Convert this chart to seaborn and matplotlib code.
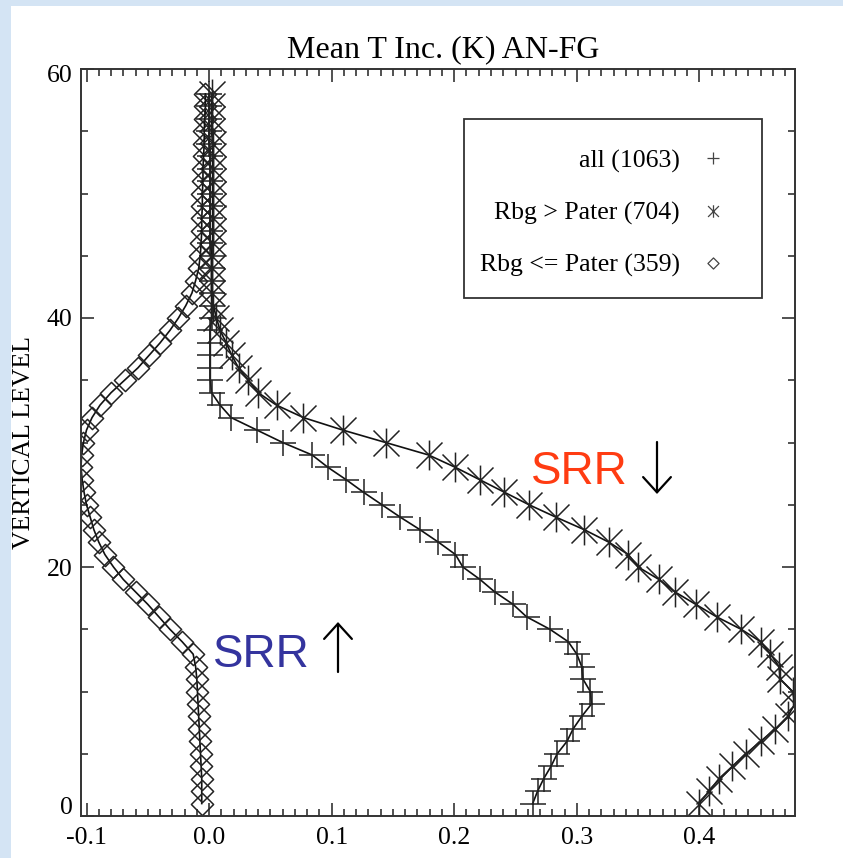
import numpy as np
import pandas as pd
import matplotlib
matplotlib.use('Agg')
import matplotlib.pyplot as plt
from matplotlib.path import Path
from matplotlib.patches import Rectangle
from matplotlib.ticker import MultipleLocator, FixedLocator
from matplotlib.transforms import ScaledTranslation
import seaborn as sns

# ---------------- data ----------------
levels = list(range(1, 59))

inc_all = [0.264, 0.268, 0.273, 0.279, 0.284, 0.292, 0.297, 0.304, 0.312, 0.311,
           0.305, 0.304, 0.300, 0.293, 0.278, 0.259, 0.248, 0.233, 0.221, 0.207,
           0.201, 0.187, 0.172, 0.156, 0.141, 0.126, 0.112, 0.097, 0.084, 0.060,
           0.039, 0.018, 0.009, 0.002, 0.001, 0.001, 0.001, 0.001, 0.001, 0.002,
           0.002, 0.002, 0.002, 0.002, 0.002, 0.001, 0.001, 0.001, 0.001, 0.001,
           0.001, 0.001, 0.001, 0.000, 0.000, 0.000, 0.000, 0.000]

inc_gt = [0.3995, 0.408, 0.416, 0.427, 0.438, 0.450, 0.462, 0.472, 0.478, 0.476,
          0.466, 0.465, 0.458, 0.450, 0.434, 0.414, 0.397, 0.380, 0.367, 0.350,
          0.342, 0.326, 0.306, 0.283, 0.261, 0.241, 0.221, 0.201, 0.179, 0.144,
          0.109, 0.077, 0.055, 0.040, 0.032, 0.024, 0.0185, 0.014, 0.009, 0.006,
          0.0035, 0.002, 0.002, 0.002, 0.002, 0.003, 0.003, 0.003, 0.003, 0.003,
          0.003, 0.003, 0.003, 0.003, 0.002, 0.002, 0.002, 0.002]

inc_le = [-0.006, -0.006, -0.006, -0.0065, -0.007, -0.0075, -0.008, -0.0085, -0.009, -0.0095,
          -0.010, -0.011, -0.013, -0.022, -0.032, -0.041, -0.050, -0.060, -0.070, -0.078,
          -0.085, -0.090, -0.094, -0.097, -0.100, -0.102, -0.1035, -0.1045, -0.104, -0.1025,
          -0.100, -0.0955, -0.089, -0.080, -0.069, -0.058, -0.049, -0.040, -0.032, -0.025,
          -0.019, -0.014, -0.011, -0.0085, -0.0072, -0.0065, -0.006, -0.006, -0.0055, -0.0055,
          -0.005, -0.005, -0.0045, -0.004, -0.004, -0.0035, -0.003, -0.003]

series_labels = ['all (1063)', 'Rbg > Pater (704)', 'Rbg <= Pater (359)']
title = 'Mean T Inc. (K) AN-FG'
ylabel = 'VERTICAL LEVEL'
xticks = [-0.1, 0.0, 0.1, 0.2, 0.3, 0.4]
xtick_labels = ['-0.1', '0.0', '0.1', '0.2', '0.3', '0.4']
yticks = [0, 20, 40, 60]
ytick_labels = ['0', '20', '40', '60']
annot_up = 'SRR'
annot_down = 'SRR'

df = pd.DataFrame({
    'level': levels * 3,
    'inc': inc_all + inc_gt + inc_le,
    'group': [series_labels[0]] * len(levels) + [series_labels[1]] * len(levels)
             + [series_labels[2]] * len(levels),
})

# ---------------- styling ----------------
plt.rcParams['font.family'] = ['Liberation Serif', 'DejaVu Sans']
FS = 18.5

M, L = Path.MOVETO, Path.LINETO
plus_path = Path([(-1, 0), (1, 0), (0, -1), (0, 1)], [M, L, M, L])
d = 0.87
ast_path = Path([(0, -1), (0, 1), (-d, -d), (d, d), (-d, d), (d, -d)], [M, L, M, L, M, L])
dia_path = Path([(0, 1), (1, 0), (0, -1), (-1, 0), (0, 1)], [M, L, L, L, Path.CLOSEPOLY])

markers = [plus_path, ast_path, dia_path]
msizes = [19, 21.5, 16]

W, H = 843, 858
fig = plt.figure(figsize=(W / 100, H / 100), dpi=100, facecolor='#d4e4f4')
fig.patches.append(Rectangle((11 / W, 0), 1 - 11 / W, 1 - 6 / H, transform=fig.transFigure,
                             facecolor='white', edgecolor='none', zorder=-5))
ax = fig.add_axes([81 / W, 1 - 816 / H, 714 / W, 747 / H])
ax.set_facecolor('white')

for name, mk, ms in zip(series_labels, markers, msizes):
    sub = df[df['group'] == name]
    sns.lineplot(data=sub, x='inc', y='level', orient='y', estimator=None, ax=ax,
                 color='#111111', linewidth=1.2, marker=mk, markersize=ms,
                 markerfacecolor='none', markeredgecolor='#222222',
                 markeredgewidth=1.1, legend=False)

ax.set_xlim(-0.1045, 0.478)
ax.set_ylim(0, 60)
ax.xaxis.set_major_locator(FixedLocator(xticks))
ax.set_xticklabels(xtick_labels)
ax.xaxis.set_minor_locator(MultipleLocator(0.01))
ax.yaxis.set_major_locator(FixedLocator(yticks))
ax.set_yticklabels(ytick_labels)
ax.yaxis.set_minor_locator(MultipleLocator(5))
ax.tick_params(which='both', direction='in', top=True, right=True,
               color='#333333', width=1.2, labelcolor='black')
ax.tick_params(which='major', length=9.5, labelsize=FS)
ax.tick_params(axis='x', which='major', pad=8)
ax.tick_params(axis='y', which='major', pad=6)
ax.tick_params(which='minor', length=5)
for sp in ax.spines.values():
    sp.set_color('#333333')
    sp.set_linewidth(1.4)
ax.set_xlabel('')
ax.set_ylabel('')

# IDL-like nudges of the end y-tick labels
yt = ax.yaxis.get_major_ticks()
yt[0].label1.set_transform(yt[0].label1.get_transform()
                           + ScaledTranslation(0, 10 / 100, fig.dpi_scale_trans))
yt[-1].label1.set_transform(yt[-1].label1.get_transform()
                            + ScaledTranslation(0, -5 / 100, fig.dpi_scale_trans))

fig.text(443 / W, 1 - 57 / H, title, ha='center', va='baseline', fontsize=23)
fig.text(24 / W, 1 - 442.5 / H, ylabel, ha='center', va='center', rotation=90, fontsize=FS)

# legend (manual, IDL style)
ax.add_patch(Rectangle(((464 - 81) / 714, (816 - 298) / 747), (762 - 464) / 714, (298 - 119) / 747,
                       transform=ax.transAxes, facecolor='white', edgecolor='#333333',
                       linewidth=1.3, zorder=5))
text_x = (680 - 81) / 714
sym_x = (713 - 81) / 714
base_y = [(816 - 168) / 747, (816 - 220) / 747, (816 - 272) / 747]
sym_y = [(816 - 158) / 747, (816 - 211) / 747, (816 - 263) / 747]
for lab, mk, by, sy, ms in zip(series_labels, markers, base_y, sym_y, [9, 9, 8]):
    ax.text(text_x, by, lab, transform=ax.transAxes, ha='right', va='baseline',
            fontsize=FS, zorder=6)
    ax.plot([sym_x], [sy], transform=ax.transAxes, marker=mk, markersize=ms,
            markerfacecolor='none', markeredgecolor='#444444', markeredgewidth=0.9,
            linestyle='none', zorder=6, clip_on=False)

# SRR annotations
fig.text(213 / W, 1 - 667 / H, annot_up, color='#34349e', fontsize=33,
         family='Liberation Sans', ha='left', va='baseline')
fig.text(531 / W, 1 - 484 / H, annot_down, color='#ff3c12', fontsize=33,
         family='Liberation Sans', ha='left', va='baseline')
arrow_kw = dict(arrowstyle='->,head_length=0.55,head_width=0.5', lw=1.6, color='black',
                shrinkA=0, shrinkB=0, mutation_scale=20)
ax.annotate('', xy=(338 / W, 1 - 622 / H), xytext=(338 / W, 1 - 672 / H),
            xycoords='figure fraction', textcoords='figure fraction', arrowprops=arrow_kw)
ax.annotate('', xy=(657 / W, 1 - 494 / H), xytext=(657 / W, 1 - 442 / H),
            xycoords='figure fraction', textcoords='figure fraction', arrowprops=arrow_kw)

fig.savefig('out.png', dpi=100, facecolor=fig.get_facecolor())
